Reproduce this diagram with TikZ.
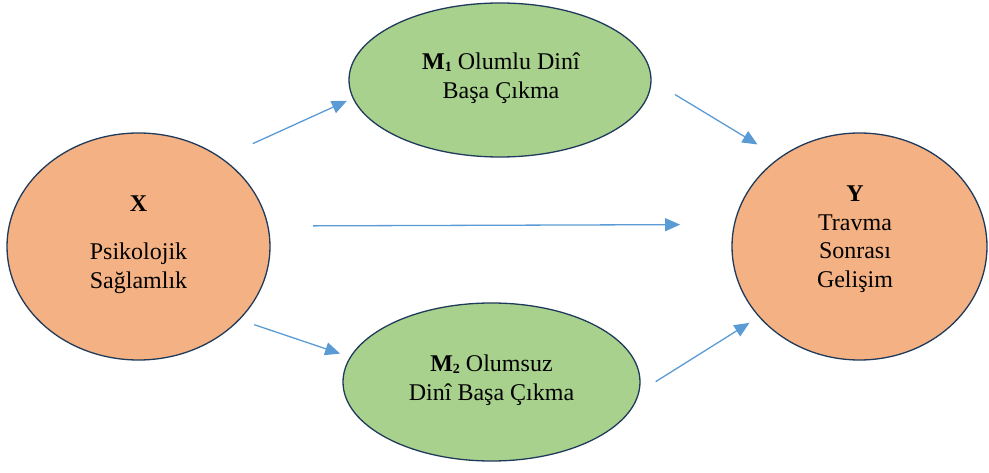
\documentclass[tikz,border=0pt]{standalone}
\usepackage{fontspec}
\setmainfont{Liberation Serif}
\usetikzlibrary{arrows.meta,shapes.geometric}
\definecolor{orangefill}{HTML}{F4B183}
\definecolor{greenfill}{HTML}{A9D18E}
\definecolor{outline}{HTML}{1F3A5A}
\definecolor{arrowblue}{HTML}{5B9BD5}
\newcommand{\mysub}[1]{\raisebox{-2.5pt}{\fontsize{14}{14}\selectfont\bfseries #1}}
\tikzset{
  oval/.style={ellipse, draw=outline, line width=1.3pt, outer sep=0pt, inner sep=0pt},
  txt/.style={align=center, inner sep=0pt, font=\fontsize{24}{29}\selectfont},
  arr/.style={draw=arrowblue, line width=1.3pt, -{Triangle[length=15pt,width=13pt]}}
}
\begin{document}
\begin{tikzpicture}[x=1pt,y=-1pt]
\useasboundingbox (0,0) rectangle (989,473);
% ellipses
\node[oval, fill=orangefill, minimum width=263pt, minimum height=227pt] (X) at (138.5,246.5) {};
\node[oval, fill=greenfill, minimum width=302pt, minimum height=154pt] (M1) at (500,80) {};
\node[oval, fill=greenfill, minimum width=297pt, minimum height=158pt] (M2) at (491.5,382) {};
\node[oval, fill=orangefill, minimum width=255pt, minimum height=227pt] (Y) at (859.5,246.5) {};
% texts
\node[txt] (XT) at (138.5,245) {\textbf{X}\\[19pt]Psikolojik\\Sağlamlık};
\node[txt] (M1T) at (501,78) {\textbf{M}\mysub{1} Olumlu Dinî\\Başa Çıkma};
\node[txt] (M2T) at (491.5,380) {\textbf{M}\mysub{2} Olumsuz\\Dinî Başa Çıkma};
\node[txt, font=\fontsize{24}{28.5}\selectfont] (YT) at (855,239) {\textbf{Y}\\Travma\\Sonrası\\Gelişim};
% arrows
\draw[arr, shorten <=35pt, shorten >=7pt] (X.47.3) -- (M1.187.9);
\draw[arr, shorten <=28pt, shorten >=26pt] (M1.0) -- (Y.132.4);
\draw[arr, shorten <=45.4pt, shorten >=54.3pt] (X.9.45) -- (Y.170.26);
\draw[arr, shorten <=16pt, shorten >=11pt] (X.-36.5) -- (M2.170.2);
\draw[arr, shorten <=20pt, shorten >=11.7pt] (M2.-4.2) -- (Y.215.3);
\end{tikzpicture}
\end{document}
